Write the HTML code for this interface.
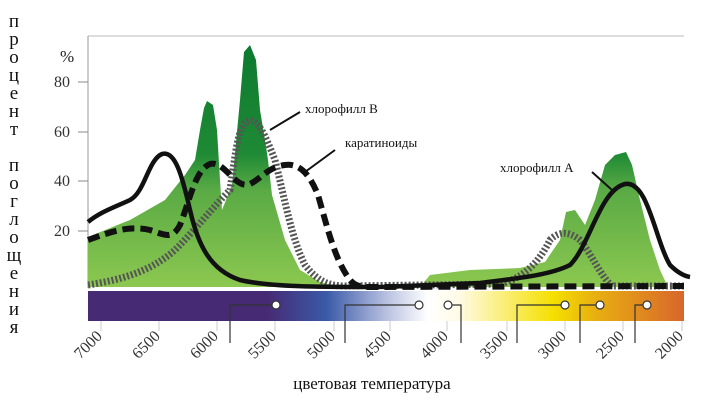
<!DOCTYPE html>
<html><head><meta charset="utf-8"><style>
body{margin:0;background:#fff;width:719px;height:405px;overflow:hidden}
svg{display:block}
text{font-family:"Liberation Serif",serif}
.t{font-family:"Liberation Sans",sans-serif;font-size:16px;fill:#333}
</style></head><body>
<svg width="719" height="405" viewBox="0 0 719 405" xmlns="http://www.w3.org/2000/svg">
<defs>
<linearGradient id="g" x1="0" y1="0" x2="0" y2="1">
<stop offset="0" stop-color="#0c7a30"/><stop offset="0.45" stop-color="#1f8a35"/><stop offset="0.6" stop-color="#5aaa45"/><stop offset="1" stop-color="#8cc850"/>
</linearGradient>
<linearGradient id="bar" x1="0" y1="0" x2="1" y2="0">
<stop offset="0" stop-color="#472a74"/><stop offset="0.3" stop-color="#472a74"/><stop offset="0.4" stop-color="#3a5aa8"/><stop offset="0.5" stop-color="#b8c0e0"/><stop offset="0.57" stop-color="#ffffff"/><stop offset="0.62" stop-color="#fffbe8"/><stop offset="0.78" stop-color="#f5e000"/><stop offset="0.85" stop-color="#e8b010"/><stop offset="1" stop-color="#d8662c"/>
</linearGradient>
</defs>
<line x1="88" y1="36" x2="684" y2="36" stroke="#bbb"/>
<line x1="88" y1="36" x2="88" y2="288" stroke="#999"/>
<path d="M88,237 L130,220 165,200 185,175 195,160 200,130 204,108 207,101 213,105 217,130 220,180 222,210 232,185 240,100 244,52 250,45 256,60 260,110 265,140 268,160 272,195 285,240 300,270 320,282 340,287 420,287 430,275 470,270 520,268 545,262 560,240 566,212 575,210 585,225 595,200 605,165 615,155 626,152 632,165 640,200 650,240 660,270 668,287 88,287Z" fill="url(#g)"/>
<text x="60" y="62" font-size="17" fill="#222">%</text>
<g class="t"><text x="54" y="87">80</text><text x="54" y="137">60</text><text x="54" y="186">40</text><text x="54" y="236">20</text></g>
<g stroke="#888"><line x1="78" y1="82" x2="88" y2="82"/><line x1="78" y1="132" x2="88" y2="132"/><line x1="78" y1="181" x2="88" y2="181"/><line x1="78" y1="231" x2="88" y2="231"/></g>
<path d="M88,285 C120,280 150,272 175,250 C195,230 215,205 230,190 C236,150 238,125 248,121 C258,118 265,135 275,160 C285,200 292,240 305,265 C318,282 330,286 345,286 L500,284 C525,278 540,260 550,240 C560,230 570,232 580,240 C592,255 600,275 612,286 L684,286" fill="none" stroke="#555" stroke-width="7" stroke-dasharray="2 2"/>
<path d="M88,240 C110,232 130,225 150,230 C165,235 172,240 180,225 C190,200 195,170 210,164 C225,160 235,190 250,184 C262,178 268,167 285,165 C300,163 310,175 318,195 C328,230 335,260 350,280 C355,286 360,287 370,287 L684,286" fill="none" stroke="#111" stroke-width="6" stroke-dasharray="12 6"/>
<path d="M88,222 C100,212 115,207 130,200 C145,192 148,160 162,154 C175,150 182,175 190,210 C198,245 210,270 240,280 C270,287 320,287 380,287 L480,283 C520,278 550,275 570,265 C590,245 600,190 625,184 C648,180 655,240 670,265 C678,273 684,276 690,277" fill="none" stroke="#111" stroke-width="4.5"/>
<text x="305" y="113" font-size="13" fill="#111">хлорофилл B</text>
<line x1="300" y1="112" x2="270" y2="130" stroke="#111" stroke-width="2"/>
<text x="345" y="147" font-size="13" fill="#111">каратиноиды</text>
<line x1="335" y1="150" x2="305" y2="172" stroke="#111" stroke-width="2"/>
<text x="500" y="172" font-size="13" fill="#111">хлорофилл А</text>
<line x1="592" y1="172" x2="612" y2="190" stroke="#111" stroke-width="2"/>
<rect x="88" y="291" width="596" height="30" fill="url(#bar)"/>
<g stroke="#ccc"><line x1="101" y1="321" x2="101" y2="331"/><line x1="159" y1="321" x2="159" y2="331"/><line x1="217" y1="321" x2="217" y2="331"/><line x1="275" y1="321" x2="275" y2="331"/><line x1="334" y1="321" x2="334" y2="331"/><line x1="390" y1="321" x2="390" y2="331"/><line x1="447" y1="321" x2="447" y2="331"/><line x1="507" y1="321" x2="507" y2="331"/><line x1="565" y1="321" x2="565" y2="331"/><line x1="623" y1="321" x2="623" y2="331"/><line x1="682" y1="321" x2="682" y2="331"/></g>
<g fill="none" stroke="#333" stroke-width="1.2">
<path d="M276,305 H230 V343"/><path d="M419,305 H345 V343"/><path d="M448,305 H461 V343"/><path d="M565,305 H517 V343"/><path d="M600,305 H580 V343"/><path d="M647,305 H635 V343"/>
</g>
<g fill="#fff" stroke="#333" stroke-width="1.2">
<circle cx="276" cy="305" r="4"/><circle cx="419" cy="305" r="4"/><circle cx="448" cy="305" r="4"/><circle cx="565" cy="305" r="4"/><circle cx="600" cy="305" r="4"/><circle cx="647" cy="305" r="4"/>
</g>
<g class="t" text-anchor="end">
<text transform="translate(103,337) rotate(-45)">7000</text>
<text transform="translate(161,337) rotate(-45)">6500</text>
<text transform="translate(219,337) rotate(-45)">6000</text>
<text transform="translate(277,337) rotate(-45)">5500</text>
<text transform="translate(336,337) rotate(-45)">5000</text>
<text transform="translate(392,337) rotate(-45)">4500</text>
<text transform="translate(449,337) rotate(-45)">4000</text>
<text transform="translate(509,337) rotate(-45)">3500</text>
<text transform="translate(567,337) rotate(-45)">3000</text>
<text transform="translate(625,337) rotate(-45)">2500</text>
<text transform="translate(684,337) rotate(-45)">2000</text>
</g>
<text x="372" y="389" font-size="17" text-anchor="middle" fill="#111">цветовая температура</text>
<g font-size="19" fill="#111" text-anchor="middle">
<text x="14" y="27">п</text><text x="14" y="45">р</text><text x="14" y="63">о</text><text x="14" y="81">ц</text><text x="14" y="99">е</text><text x="14" y="117">н</text><text x="14" y="135">т</text>
<text x="14" y="171">п</text><text x="14" y="189">о</text><text x="14" y="207">г</text><text x="14" y="225">л</text><text x="14" y="243">о</text><text x="14" y="261">щ</text><text x="14" y="279">е</text><text x="14" y="297">н</text><text x="14" y="315">и</text><text x="14" y="333">я</text>
</g>
</svg>
</body></html>
